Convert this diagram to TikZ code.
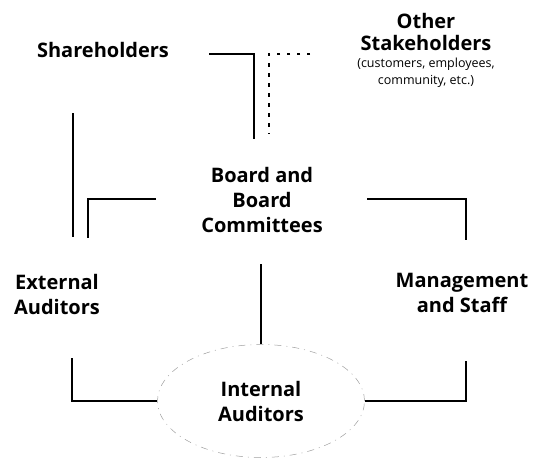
\documentclass[tikz,border=0pt]{standalone}
\usepackage{fontspec}
\setmainfont{Open Sans}
\usetikzlibrary{shapes.geometric}

\newcommand\notefont{\fontsize{12.5}{16}\selectfont\mdseries}

\tikzset{
  party/.style={align=center,inner sep=0pt,font=\fontsize{20}{25}\selectfont\bfseries},
  link/.style={line width=1.6pt},
  loose/.style={line width=1.6pt,dash pattern=on 3.5pt off 6.5pt},
  oval/.style={ellipse,draw=gray!75,line width=0.5pt,dash pattern=on 7pt off 5pt on 1pt off 5pt,
    minimum width=207pt,minimum height=113pt,inner sep=0pt}
}

\begin{document}
\begin{tikzpicture}[x=1pt,y=-1pt]
 \useasboundingbox (0,0) rectangle (540,460);
 % the parties
 \node[party] (sh) at (103,50) {Shareholders};
 \node[party,anchor=north] (os) at (426,13) {Other\\[-3pt]Stakeholders\\[-8pt]
   \notefont (customers, employees,\\[-8pt]\notefont community, etc.)};
 \node[party] (bd) at (262,200) {Board and\\Board\\Committees};
 \node[party] (ea) at (57,294) {External\\Auditors};
 \node[party] (ms) at (462,293) {Management\\and Staff};
 \node[party,oval] (ia) at (261,401) {Internal\\Auditors};
 % line ends
 \coordinate (sh-a) at (209,54);  \coordinate (sh-b) at (254,139);
 \coordinate (os-a) at (310,54);  \coordinate (os-b) at (269,134);
 \coordinate (sh-c) at (73,113);  \coordinate (ea-c) at (73,237);
 \coordinate (bd-l) at (156,199); \coordinate (ea-t) at (88,238);
 \coordinate (bd-r) at (367,199); \coordinate (ms-t) at (466,240);
 \coordinate (bd-b) at (261,264);
 \coordinate (ea-b) at (72,358);  \coordinate (ms-b) at (466,361);
 % the ties
 \draw[link] (sh-a) -| (sh-b);
 \draw[loose] (os-a) -| (os-b);
 \draw[link] (sh-c) -- (ea-c);
 \draw[link] (bd-l) -| (ea-t);
 \draw[link] (bd-r) -| (ms-t);
 \draw[link] (bd-b) -- (ia.north);
 \draw[link] (ea-b) |- (ia.west);
 \draw[link] (ms-b) |- (ia.east);
\end{tikzpicture}
\end{document}
